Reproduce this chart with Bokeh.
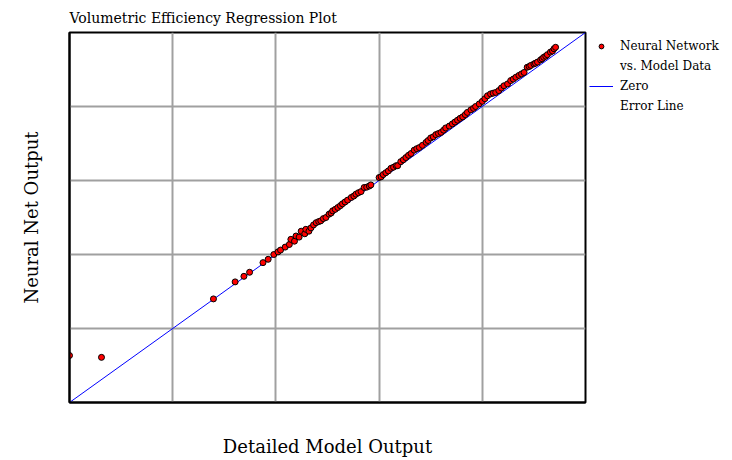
from bokeh.plotting import figure
from bokeh.models import Legend, LegendItem, Range1d, FixedTicker
from bokeh.embed import file_html
from bokeh.resources import INLINE

# Detailed model output (x) vs neural net output (y), both normalised 0..1
model_out = [0.000, 0.062, 0.279, 0.321, 0.338, 0.349, 0.375, 0.385, 0.396, 0.404,
             0.409, 0.418, 0.426, 0.429, 0.436, 0.439, 0.445, 0.449, 0.456, 0.458,
             0.464, 0.468, 0.473, 0.478, 0.483, 0.487, 0.492, 0.497, 0.503, 0.507,
             0.510, 0.515, 0.520, 0.525, 0.529, 0.534, 0.539, 0.546, 0.551, 0.555,
             0.560, 0.565, 0.571, 0.576, 0.581, 0.584, 0.600, 0.604, 0.608, 0.613,
             0.618, 0.623, 0.628, 0.633, 0.636, 0.642, 0.647, 0.652, 0.657, 0.662,
             0.668, 0.673, 0.678, 0.684, 0.691, 0.695, 0.700, 0.705, 0.710, 0.715,
             0.720, 0.725, 0.729, 0.736, 0.742, 0.747, 0.752, 0.757, 0.762, 0.767,
             0.771, 0.778, 0.783, 0.787, 0.794, 0.800, 0.805, 0.810, 0.816, 0.821,
             0.826, 0.832, 0.837, 0.842, 0.849, 0.855, 0.860, 0.865, 0.871, 0.876,
             0.881, 0.887, 0.891, 0.894, 0.900, 0.903, 0.907, 0.913, 0.916, 0.919,
             0.923, 0.926, 0.932, 0.936, 0.939, 0.942]
net_out = [0.127, 0.122, 0.280, 0.326, 0.341, 0.352, 0.378, 0.387, 0.400, 0.407,
           0.412, 0.420, 0.427, 0.441, 0.436, 0.450, 0.447, 0.463, 0.456, 0.468,
           0.463, 0.472, 0.480, 0.486, 0.489, 0.491, 0.497, 0.500, 0.509, 0.512,
           0.518, 0.522, 0.527, 0.532, 0.537, 0.542, 0.547, 0.554, 0.558, 0.563,
           0.567, 0.570, 0.581, 0.582, 0.585, 0.588, 0.608, 0.610, 0.616, 0.621,
           0.626, 0.633, 0.636, 0.640, 0.640, 0.651, 0.656, 0.662, 0.668, 0.673,
           0.682, 0.686, 0.689, 0.695, 0.703, 0.708, 0.715, 0.718, 0.724, 0.727,
           0.730, 0.736, 0.742, 0.747, 0.753, 0.758, 0.763, 0.768, 0.772, 0.778,
           0.784, 0.791, 0.795, 0.800, 0.807, 0.814, 0.821, 0.829, 0.834, 0.836,
           0.838, 0.843, 0.850, 0.856, 0.861, 0.870, 0.874, 0.879, 0.884, 0.888,
           0.892, 0.906, 0.908, 0.911, 0.915, 0.917, 0.920, 0.926, 0.929, 0.933,
           0.936, 0.940, 0.947, 0.950, 0.956, 0.960]

zero_x = [0.0, 1.0]
zero_y = [0.0, 1.0]
grid_ticks = [0.2, 0.4, 0.6, 0.8]

title_text = "Volumetric Efficiency Regression Plot"
x_label = "Detailed Model Output"
y_label = "Neural Net Output"
legend_rows = ["Neural Network", "vs. Model Data", "Zero", "Error Line"]

SERIF = "DejaVu Serif"

p = figure(width=724, height=456, frame_width=516, frame_height=370,
           output_backend="svg", toolbar_location=None,
           x_range=Range1d(0, 1), y_range=Range1d(0, 1),
           min_border_left=69, min_border_right=139,
           min_border_top=32, min_border_bottom=54)

p.title.text = title_text
p.title.text_font = SERIF
p.title.text_font_size = "14px"
p.title.text_font_style = "normal"
p.title.text_color = "black"
p.title.align = "left"
p.title.offset = 0
p.title.standoff = 13

p.outline_line_color = "black"
p.outline_line_width = 2

for ax in (p.xaxis[0], p.yaxis[0]):
    ax.ticker = FixedTicker(ticks=[])
    ax.major_tick_in = 0
    ax.major_tick_out = 0
    ax.minor_tick_line_color = None
    ax.major_label_standoff = 0
    ax.axis_line_color = "black"
    ax.axis_line_width = 2
    ax.axis_label_text_font = SERIF
    ax.axis_label_text_font_size = "18px"
    ax.axis_label_text_font_style = "normal"
    ax.axis_label_text_color = "black"

p.xaxis.axis_label = x_label
p.yaxis.axis_label = y_label
p.xaxis.axis_label_standoff = 33
p.yaxis.axis_label_standoff = 28

p.xgrid[0].ticker = FixedTicker(ticks=grid_ticks)
p.ygrid[0].ticker = FixedTicker(ticks=grid_ticks)
p.grid.grid_line_color = "#a0a0a0"
p.grid.grid_line_width = 2
p.grid.grid_line_alpha = 1.0

line_r = p.line(zero_x, zero_y, line_color="blue", line_width=1)
pts_r = p.scatter(model_out, net_out, marker="circle", size=6,
                  fill_color="red", line_color="black", line_width=1)
blank_r = p.scatter([], [], marker="circle", size=1, fill_alpha=0, line_alpha=0)

legend = Legend(items=[LegendItem(label=legend_rows[0], renderers=[pts_r]),
                       LegendItem(label=legend_rows[1], renderers=[blank_r]),
                       LegendItem(label=legend_rows[2], renderers=[line_r]),
                       LegendItem(label=legend_rows[3], renderers=[blank_r])],
                location="top_left", orientation="vertical",
                border_line_color=None, background_fill_alpha=0,
                padding=0, margin=4, spacing=0,
                glyph_width=24, glyph_height=12, label_standoff=7,
                label_text_font=SERIF, label_text_font_size="12px",
                label_text_color="black",
                label_height=20)
p.add_layout(legend, "right")

open("out.html", "w").write(file_html(p, INLINE))
